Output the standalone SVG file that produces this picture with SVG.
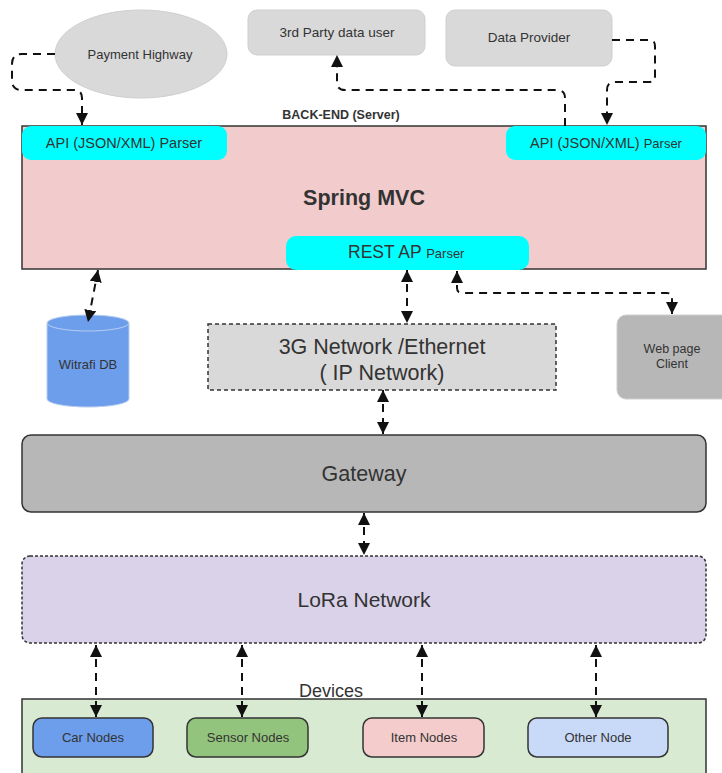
<svg xmlns="http://www.w3.org/2000/svg" width="722" height="773" viewBox="0 0 722 773">
  <style>
    text { font-family: "Liberation Sans", Arial, sans-serif; fill: #333; text-anchor: middle; }
    .ext { fill: #d9d9d9; stroke: #cfcfcf; stroke-width: 1; }
    .parser { fill: #00ffff; stroke: none; }
    .conn { fill: none; stroke: #111; stroke-width: 2; stroke-dasharray: 8 6; }
    .both { marker-start: url(#arrow); marker-end: url(#arrow); }
    .end { marker-end: url(#arrow); }
    .node { stroke: #333; stroke-width: 1.5; }
  </style>
  <defs>
    <marker id="arrow" viewBox="0 0 10 10" refX="10" refY="5" markerWidth="12" markerHeight="12" markerUnits="userSpaceOnUse" orient="auto-start-reverse">
      <path d="M0,0 L10,5 L0,10 z" fill="#111"/>
    </marker>
  </defs>

  <rect width="722" height="773" fill="#ffffff"/>

  <!-- external systems -->
  <g id="payment-highway">
    <ellipse cx="141" cy="54" rx="86" ry="44" class="ext"/>
    <text x="140" y="59" font-size="13">Payment Highway</text>
  </g>
  <g id="third-party">
    <rect x="248" y="10" width="177" height="45" rx="9" class="ext"/>
    <text x="337" y="37" font-size="13.5">3rd Party data user</text>
  </g>
  <g id="data-provider">
    <rect x="446" y="10" width="166" height="56" rx="9" class="ext"/>
    <text x="529" y="42" font-size="13.5">Data Provider</text>
  </g>

  <!-- back-end server -->
  <g id="backend">
    <text x="341" y="119" font-size="12.5" font-weight="bold">BACK-END (Server)</text>
    <rect x="22" y="126" width="684" height="143" fill="#f2cccc" stroke="#333" stroke-width="1.5"/>
    <text x="364" y="205" font-size="21.5" font-weight="bold" fill="#222">Spring MVC</text>
  </g>
  <g id="api-parser-left">
    <rect x="22" y="126" width="205" height="34" rx="9" class="parser"/>
    <text x="124" y="148" font-size="14.5">API (JSON/XML) Parser</text>
  </g>
  <g id="api-parser-right">
    <rect x="506" y="126" width="200" height="34" rx="9" class="parser"/>
    <text x="606" y="148" font-size="14.5">API (JSON/XML)  <tspan font-size="13">Parser</tspan></text>
  </g>
  <g id="rest-parser">
    <rect x="286" y="236" width="243" height="34" rx="10" class="parser"/>
    <text x="348" y="258" font-size="17.5" style="text-anchor:start">REST AP <tspan font-size="13">Parser</tspan></text>
  </g>

  <!-- database -->
  <g id="witrafi-db">
    <path d="M47,323 V399 A41,8 0 0 0 129,399 V323 A41,8 0 0 0 47,323 z" fill="#6d9eeb" stroke="#b8cdf0" stroke-width="1"/>
    <path d="M47,323 A41,8 0 0 0 129,323" fill="none" stroke="#b8cdf0" stroke-width="1"/>
    <text x="88" y="369" font-size="13" fill="#1f3b63">Witrafi DB</text>
  </g>

  <!-- network layer -->
  <g id="ip-network">
    <rect x="208" y="324" width="348" height="66" fill="#d9d9d9" stroke="#333" stroke-width="1.5" stroke-dasharray="4 3"/>
    <text x="382" y="354" font-size="21.5">3G Network /Ethernet</text>
    <text x="382" y="380" font-size="21.5">( IP Network)</text>
  </g>
  <g id="web-client">
    <rect x="617" y="315" width="115" height="84" rx="9" fill="#b7b7b7" stroke="#cfcfcf" stroke-width="1"/>
    <text x="672" y="353" font-size="12.5">Web page</text>
    <text x="672" y="368" font-size="12.5">Client</text>
  </g>
  <g id="gateway">
    <rect x="22" y="435" width="684" height="77" rx="9" fill="#b7b7b7" stroke="#333" stroke-width="1.5"/>
    <text x="364" y="481" font-size="21.5">Gateway</text>
  </g>
  <g id="lora-network">
    <rect x="22" y="556" width="684" height="87" rx="8" fill="#d9d2e9" stroke="#333" stroke-width="1.5" stroke-dasharray="3 2"/>
    <text x="364" y="607" font-size="21">LoRa Network</text>
  </g>

  <!-- devices -->
  <g id="devices">
    <text x="331" y="697" font-size="18">Devices</text>
    <rect x="22" y="699" width="684" height="80" fill="#d9ead3" stroke="#333" stroke-width="1.5"/>
  </g>
  <g id="car-nodes">
    <rect x="33" y="718" width="120" height="39" rx="9" fill="#6d9eeb" class="node"/>
    <text x="93" y="742" font-size="13">Car Nodes</text>
  </g>
  <g id="sensor-nodes">
    <rect x="187" y="718" width="121" height="39" rx="9" fill="#93c47d" class="node"/>
    <text x="248" y="742" font-size="13">Sensor Nodes</text>
  </g>
  <g id="item-nodes">
    <rect x="363" y="718" width="121" height="39" rx="9" fill="#f4cccc" class="node"/>
    <text x="424" y="742" font-size="13">Item Nodes</text>
  </g>
  <g id="other-node">
    <rect x="528" y="718" width="140" height="39" rx="9" fill="#c9daf8" class="node"/>
    <text x="598" y="742" font-size="13">Other Node</text>
  </g>

  <!-- connectors -->
  <g id="connectors">
    <path class="conn end" d="M55,54 H22 Q12,54 12,64 V80 Q12,90 22,90 H74 Q82,90 82,98 V125"/>
    <path class="conn end" d="M565,126 V98 Q565,90 557,90 H345 Q337,90 337,82 V55"/>
    <path class="conn end" d="M612,40 H649 Q655,40 655,46 V76 Q655,82 649,82 H615 Q607,82 607,90 V125"/>
    <path class="conn both" d="M98,270 L88,322"/>
    <path class="conn both" d="M407,270 V323"/>
    <path class="conn both" d="M457,271 V288 Q457,293 462,293 H667 Q672,293 672,298 V314"/>
    <path class="conn both" d="M383,390 V434"/>
    <path class="conn both" d="M364,513 V555"/>
    <path class="conn both" d="M96,645 V717"/>
    <path class="conn both" d="M242,645 V717"/>
    <path class="conn both" d="M422,645 V717"/>
    <path class="conn both" d="M596,645 V717"/>
  </g>
</svg>
